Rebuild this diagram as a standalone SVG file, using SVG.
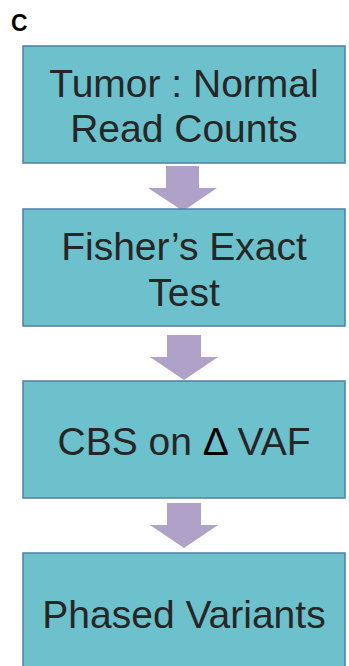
<svg xmlns="http://www.w3.org/2000/svg" width="349" height="666" viewBox="0 0 349 666">
  <style>
    .box { fill: #6cc1cc; stroke: #4f7fa6; stroke-width: 1.5; }
    .lbl { font-family: "Liberation Sans", Arial, sans-serif; font-size: 39px; fill: #262626; text-anchor: middle; }
    .arrow { fill: #b0a1c9; }
    .panel { font-family: "Liberation Sans", Arial, sans-serif; font-size: 23px; font-weight: bold; fill: #000; }
  </style>
  <rect width="349" height="666" fill="#fff"/>
  <text class="panel" x="11" y="31">C</text>

  <g id="connectors">
    <polygon class="arrow" points="166,166 199,166 199,188 217,188 183,211 148,188 166,188"/>
    <polygon class="arrow" points="167,335 201,335 201,357 218,357 184,380 150,357 167,357"/>
    <polygon class="arrow" points="167,503 201,503 201,525 218,525 184,548 150,525 167,525"/>
  </g>

  <g id="node-read-counts">
    <rect class="box" x="23" y="46" width="322" height="117"/>
    <text class="lbl" x="184" y="97">Tumor : Normal</text>
    <text class="lbl" x="184" y="142">Read Counts</text>
  </g>

  <g id="node-fisher">
    <rect class="box" x="23" y="209" width="322" height="117"/>
    <text class="lbl" x="184" y="260">Fisher’s Exact</text>
    <text class="lbl" x="184" y="306">Test</text>
  </g>

  <g id="node-cbs">
    <rect class="box" x="23" y="381" width="322" height="117"/>
    <text class="lbl" x="184" y="455">CBS on <tspan fill="#000">Δ</tspan> VAF</text>
  </g>

  <g id="node-phased">
    <rect class="box" x="23" y="553" width="322" height="120"/>
    <text class="lbl" x="184" y="628">Phased Variants</text>
  </g>
</svg>
